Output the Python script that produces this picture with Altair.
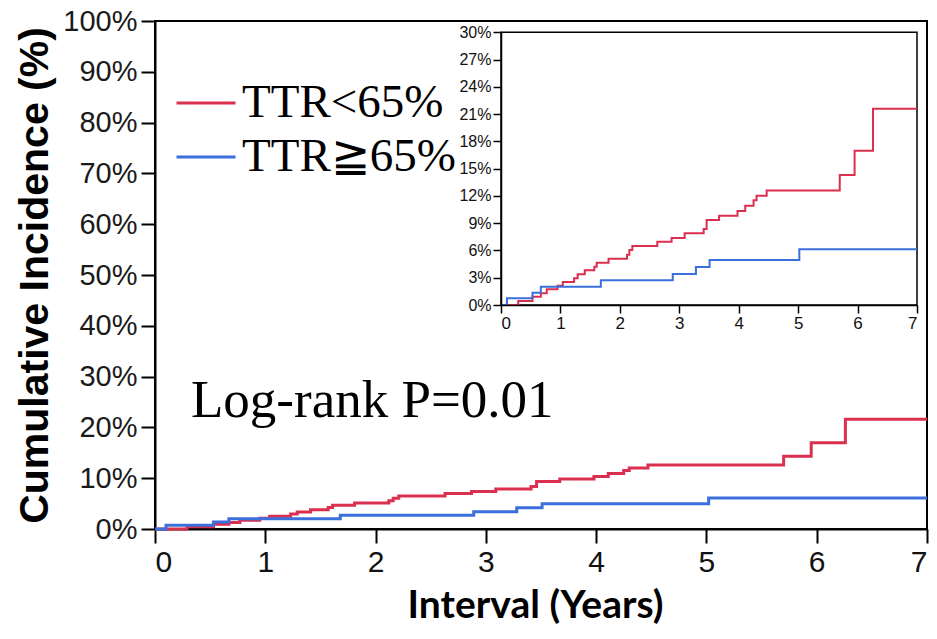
import altair as alt
import pandas as pd

# ---- data ----
GROUPS = ["TTR<65%", "TTR≧65%"]
COLORS = ["#DA2F4E", "#3B6FDC"]

RED_T = [0, 0.29, 0.53, 0.67, 0.77, 0.95, 1.04, 1.23, 1.29, 1.41, 1.57, 1.61, 1.81,
         2.12, 2.16, 2.21, 2.63, 2.87, 3.09, 3.41, 3.46, 3.67, 3.98, 4.11, 4.25,
         4.30, 4.47, 5.70, 5.95, 6.26, 7.0]
RED_Y = [0, 0.44, 0.92, 1.28, 1.72, 2.13, 2.53, 2.93, 3.37, 3.81, 4.22, 4.66, 5.10,
         5.54, 6.05, 6.49, 6.97, 7.37, 7.88, 8.36, 9.35, 9.83, 10.34, 10.93, 11.51,
         12.03, 12.60, 14.30, 16.98, 21.60, 21.60]

BLUE_T = [0, 0.10, 0.53, 0.67, 1.68, 2.89, 3.28, 3.51, 5.02, 7.0]
BLUE_Y = [0, 0.73, 1.36, 2.02, 2.71, 3.41, 4.18, 4.95, 6.12, 6.12]

MAIN_X_TICKS = [0, 1, 2, 3, 4, 5, 6, 7]
MAIN_Y_TICKS = [0, 10, 20, 30, 40, 50, 60, 70, 80, 90, 100]
INSET_X_TICKS = [0, 1, 2, 3, 4, 5, 6, 7]
INSET_Y_TICKS = [0, 3, 6, 9, 12, 15, 18, 21, 24, 27, 30]

LOGRANK = ["Log-rank P=0.01"]
X_TITLE = "Interval (Years)"
Y_TITLE = "Cumulative Incidence (%)"

df = pd.concat([
    pd.DataFrame({"t": RED_T, "y": RED_Y, "group": GROUPS[0]}),
    pd.DataFrame({"t": BLUE_T, "y": BLUE_Y, "group": GROUPS[1]}),
], ignore_index=True)

frame_df = pd.DataFrame({
    "x0": [INSET_X_TICKS[0]], "x1": [INSET_X_TICKS[-1]],
    "y0": [INSET_Y_TICKS[0]], "y1": [INSET_Y_TICKS[-1]],
})
text_df = pd.DataFrame({"label": LOGRANK})

W, H = 772, 508

legend = alt.Legend(
    orient="none", legendX=20, legendY=51, title=None,
    symbolType="stroke", symbolSize=3481, symbolStrokeWidth=3,
    labelFont="Liberation Serif, DejaVu Serif", labelFontSize=47, labelColor="black",
    labelOffset=5, rowPadding=0, padding=0, labelLimit=500,
)
color_scale = alt.Scale(domain=GROUPS, range=COLORS)

# ---- main chart ----
main_x = alt.X(
    "t:Q",
    scale=alt.Scale(domain=[MAIN_X_TICKS[0], MAIN_X_TICKS[-1]], nice=False),
    axis=alt.Axis(
        values=MAIN_X_TICKS, title=X_TITLE, orient="bottom",
        labelFont="Liberation Sans", labelFontSize=30, labelColor="#111",
        labelPadding=4, tickSize=14, tickWidth=2, tickColor="black",
        domainColor="black", domainWidth=2, grid=False,
        titleFont="Lato", titleFontWeight="bold", titleFontSize=39,
        titleColor="black", titleX=380, titleY=88, titleBaseline="alphabetic",
        titleAlign="center",
    ),
)
main_y = alt.Y(
    "y:Q",
    scale=alt.Scale(domain=[MAIN_Y_TICKS[0], MAIN_Y_TICKS[-1]], nice=False),
    axis=alt.Axis(
        values=MAIN_Y_TICKS, labelExpr="datum.value + '%'", title=Y_TITLE,
        orient="left",
        labelFont="Liberation Sans", labelFontSize=29, labelColor="#1a1a1a",
        labelPadding=4, tickSize=14, tickWidth=2, tickColor="black",
        domainColor="black", domainWidth=2, grid=False,
        titleFont="Liberation Sans", titleFontWeight="bold", titleFontSize=41,
        titleColor="black", titleX=-108, titleY=254, titleAngle=-90,
        titleBaseline="alphabetic", titleAlign="center",
    ),
)

main_lines = alt.Chart(df).mark_line(interpolate="step-after", strokeWidth=3).encode(
    x=main_x, y=main_y,
    color=alt.Color("group:N", scale=color_scale, legend=legend),
)

logrank_text = alt.Chart(text_df).mark_text(
    font="Liberation Serif", fontSize=53, align="left", baseline="alphabetic",
    color="black",
).encode(x=alt.value(36), y=alt.value(396), text="label:N")

# ---- inset ----
inset_x_scale = alt.Scale(domain=[INSET_X_TICKS[0], INSET_X_TICKS[-1]], nice=False,
                          range=[346, 762])
inset_y_scale = alt.Scale(domain=[INSET_Y_TICKS[0], INSET_Y_TICKS[-1]], nice=False,
                          range=[284, 11.3])
inset_x_axis = alt.Axis(
    values=INSET_X_TICKS, title=None, orient="bottom", offset=-224,
    labelFont="Liberation Sans", labelFontSize=17, labelColor="#111",
    labelPadding=2, tickSize=8, tickWidth=1.5, tickColor="black",
    domainColor="black", domainWidth=1.5, grid=False, zindex=1,
)
inset_y_axis = alt.Axis(
    values=INSET_Y_TICKS, labelExpr="datum.value + '%'", title=None,
    orient="left", offset=-346,
    labelFont="Liberation Sans", labelFontSize=16, labelColor="#111",
    labelPadding=2, tickSize=8, tickWidth=1.5, tickColor="black",
    domainColor="black", domainWidth=1.5, grid=False, zindex=1,
)

inset_frame = alt.Chart(frame_df).mark_rect(
    filled=False, stroke="black", strokeWidth=1.5,
).encode(
    x=alt.X("x0:Q", scale=inset_x_scale, axis=inset_x_axis), x2="x1:Q",
    y=alt.Y("y0:Q", scale=inset_y_scale, axis=inset_y_axis), y2="y1:Q",
)
inset_lines = alt.Chart(df).mark_line(interpolate="step-after", strokeWidth=2).encode(
    x=alt.X("t:Q", scale=inset_x_scale, axis=inset_x_axis),
    y=alt.Y("y:Q", scale=inset_y_scale, axis=inset_y_axis),
    color=alt.Color("group:N", scale=color_scale, legend=legend),
)
inset = alt.layer(inset_frame, inset_lines)

chart = alt.layer(main_lines, logrank_text, inset).resolve_scale(
    x="independent", y="independent"
).properties(
    width=W, height=H, autosize="none",
    padding={"left": 147, "top": 13, "right": 2, "bottom": 95},
).configure_view(stroke="black", strokeWidth=2)

chart.save("out.html", embed_options={"renderer": "svg", "actions": False})
